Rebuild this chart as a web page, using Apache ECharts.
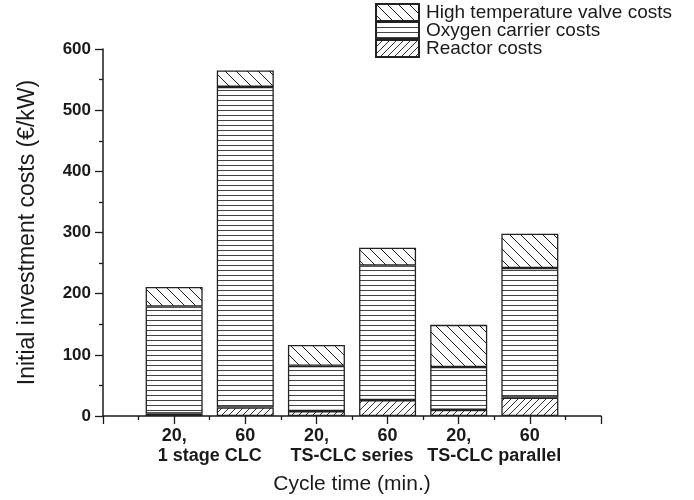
<!DOCTYPE html>
<html>
<head>
<meta charset="utf-8">
<script src="https://cdn.jsdelivr.net/npm/echarts@6/dist/echarts.min.js"></script>
<style>
html,body{margin:0;padding:0;background:#fff;}
#chart{width:694px;height:500px;}
</style>
</head>
<body>
<div id="chart"></div>
<script>
// ---- data ----
const cycleLabels = ['20,', '60', '20,', '60', '20,', '60'];
const groupLabels = ['1 stage CLC', 'TS-CLC series', 'TS-CLC parallel'];
const reactorCosts = [4, 14, 8, 26, 10, 30];
const oxygenCosts = [175, 524, 74, 220, 70, 212];
const valveCosts = [32, 27, 34, 29, 69, 56];
const seriesNames = ['High temperature valve costs', 'Oxygen carrier costs', 'Reactor costs'];
const yTicks = [0, 100, 200, 300, 400, 500, 600];

// ---- patterns ----
function diagPattern(size, dir, color) {
  const c = document.createElement('canvas');
  c.width = size; c.height = size;
  const g = c.getContext('2d');
  g.fillStyle = '#fff'; g.fillRect(0, 0, size, size);
  g.strokeStyle = color; g.lineWidth = 1;
  g.beginPath();
  if (dir === 'back') { // "\"
    g.moveTo(-1, -1); g.lineTo(size + 1, size + 1);
    g.moveTo(-1, size - 1); g.lineTo(1, size + 1);
    g.moveTo(size - 1, -1); g.lineTo(size + 1, 1);
  } else { // "/"
    g.moveTo(-1, size + 1); g.lineTo(size + 1, -1);
    g.moveTo(-1, 1); g.lineTo(1, -1);
    g.moveTo(size - 1, size + 1); g.lineTo(size + 1, size - 1);
  }
  g.stroke();
  return c;
}
function horizPattern(gap, color) {
  const c = document.createElement('canvas');
  c.width = 10; c.height = gap;
  const g = c.getContext('2d');
  g.fillStyle = '#fff'; g.fillRect(0, 0, 10, gap);
  g.fillStyle = color; g.fillRect(0, 0, 10, 1);
  return c;
}
const valvePat = { image: diagPattern(11, 'back', '#222'), repeat: 'repeat' };
const oxyPat = { image: horizPattern(5, '#444'), repeat: 'repeat' };
const reactPat = { image: diagPattern(7, 'fwd', '#333'), repeat: 'repeat' };

// hidden category axis: one empty slot at each end so bars sit at positions 1..6 of 0..7
const barSlots = [''].concat(cycleLabels.map((c, i) => 'b' + i)).concat(['']);
const padded = arr => [null].concat(arr).concat([null]);

const chart = echarts.init(document.getElementById('chart'), null, { renderer: 'canvas' });
const fontFam = 'Liberation Sans, Arial, sans-serif';
const barStyle = (pat) => ({ color: pat, borderColor: '#222', borderWidth: 1.3 });

chart.setOption({
  animation: false,
  backgroundColor: '#fff',
  grid: { left: 103, right: 93, top: 49, bottom: 83 },
  legend: {
    orient: 'vertical',
    left: 375, top: 3, padding: 0,
    itemWidth: 43, itemHeight: 17, itemGap: -1,
    icon: 'rect',
    data: seriesNames,
    textStyle: { fontFamily: fontFam, fontSize: 19, color: '#1a1a1a', padding: [0, 0, 0, 2] }
  },
  xAxis: [{
    type: 'value', min: 0, max: 7, interval: 1,
    axisLine: { show: true, onZero: false, lineStyle: { color: '#1a1a1a', width: 1.5 } },
    axisTick: { show: true, length: 8, lineStyle: { color: '#1a1a1a', width: 1.3 } },
    minorTick: { show: true, splitNumber: 2, length: 4, lineStyle: { color: '#1a1a1a', width: 1.3 } },
    splitLine: { show: false },
    minorSplitLine: { show: false },
    axisLabel: {
      margin: 11,
      fontFamily: fontFam, fontSize: 18, fontWeight: 'bold', color: '#1a1a1a',
      formatter: v => (v >= 1 && v <= 6 && Math.abs(v - Math.round(v)) < 1e-6) ? cycleLabels[Math.round(v) - 1] : ''
    },
    name: 'Cycle time (min.)', nameLocation: 'middle', nameGap: 58,
    nameTextStyle: { fontFamily: fontFam, fontSize: 21, color: '#1a1a1a' }
  }, {
    type: 'value', min: 0, max: 7, interval: 0.5, position: 'bottom',
    axisLine: { show: false }, axisTick: { show: false }, splitLine: { show: false },
    axisLabel: {
      margin: 31,
      fontFamily: fontFam, fontSize: 18, fontWeight: 'bold', color: '#1a1a1a',
      formatter: v => {
        const k = Math.round((v - 1.5) / 2);
        if (Math.abs(v - (1.5 + 2 * k)) < 1e-6 && k >= 0 && k < groupLabels.length) return groupLabels[k];
        return '';
      }
    }
  }, {
    type: 'category', data: barSlots, boundaryGap: false, position: 'bottom', show: false
  }],
  yAxis: {
    type: 'value', min: yTicks[0], max: yTicks[yTicks.length - 1], interval: 100,
    axisLine: { show: true, lineStyle: { color: '#1a1a1a', width: 1.5 } },
    axisTick: { show: true, length: 8, lineStyle: { color: '#1a1a1a', width: 1.3 } },
    minorTick: { show: true, splitNumber: 2, length: 4, lineStyle: { color: '#1a1a1a', width: 1.3 } },
    splitLine: { show: false },
    axisLabel: { margin: 12, fontFamily: fontFam, fontSize: 17, fontWeight: 'bold', color: '#1a1a1a' },
    name: 'Initial investment costs (€/kW)', nameLocation: 'middle', nameGap: 64,
    nameTextStyle: { fontFamily: fontFam, fontSize: 23, color: '#1a1a1a' }
  },
  series: [
    { name: seriesNames[2], type: 'bar', stack: 'c', xAxisIndex: 2, barWidth: 57, data: padded(reactorCosts), itemStyle: barStyle(reactPat) },
    { name: seriesNames[1], type: 'bar', stack: 'c', xAxisIndex: 2, barWidth: 57, data: padded(oxygenCosts), itemStyle: barStyle(oxyPat) },
    { name: seriesNames[0], type: 'bar', stack: 'c', xAxisIndex: 2, barWidth: 57, data: padded(valveCosts), itemStyle: barStyle(valvePat) }
  ]
});
</script>
</body>
</html>
